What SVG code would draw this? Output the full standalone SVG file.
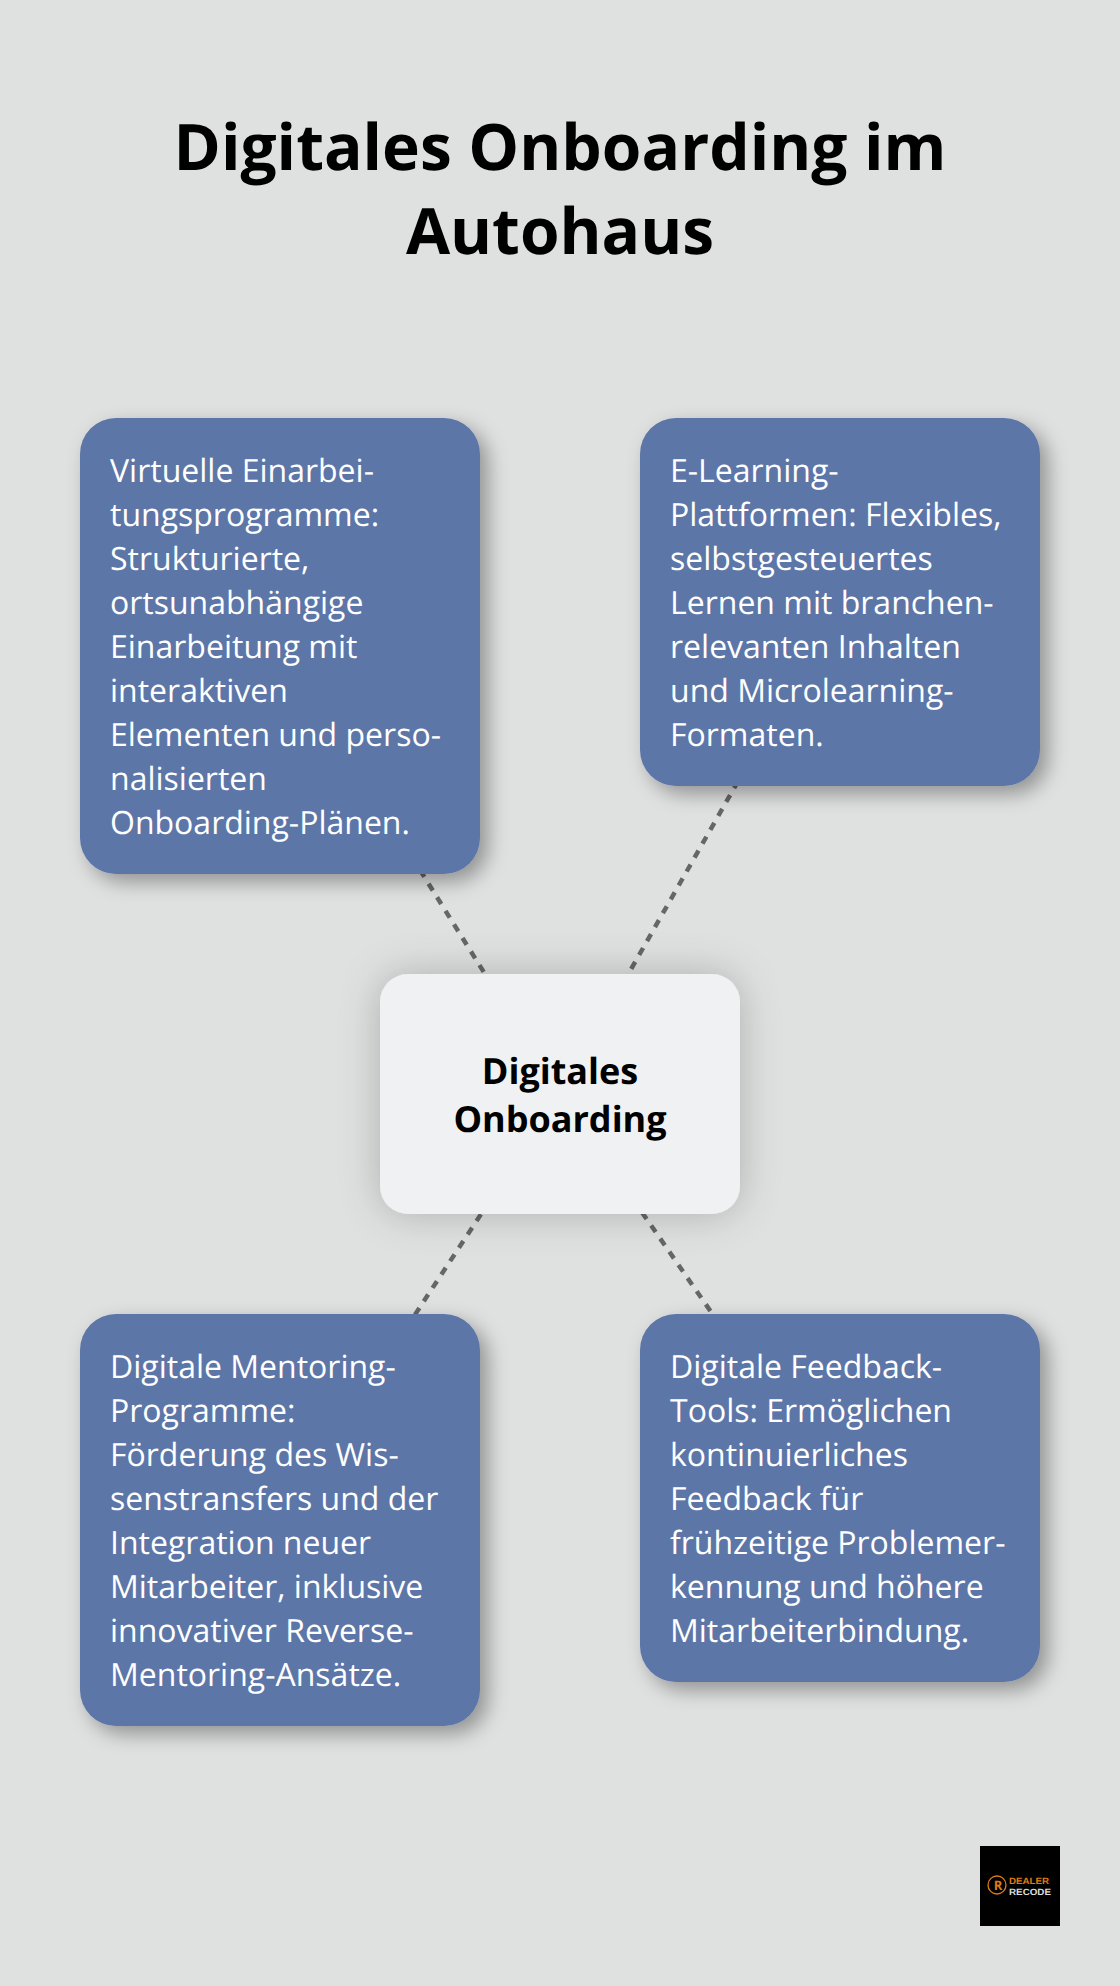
<svg xmlns="http://www.w3.org/2000/svg" width="1120" height="1986" viewBox="0 0 1120 1986">
<style>
text{font-family:"Open Sans","Noto Sans",sans-serif;text-rendering:geometricPrecision}
.t{font-size:64px;font-weight:700;fill:#000;text-anchor:middle}
.c{font-size:36px;font-weight:700;fill:#000;text-anchor:middle}
.b{font-size:32px;fill:#fff}
.box{fill:#5d76a8;filter:url(#s)}
.ctr{fill:#eff1f3;filter:url(#s2)}
.l{stroke:#666;stroke-width:4.5;stroke-dasharray:8 8;fill:none}
.lg{font-family:"Liberation Sans",sans-serif;font-size:9px;font-weight:700}
</style>
<defs>
<filter id="s" x="-20%" y="-20%" width="140%" height="140%"><feDropShadow dx="8" dy="8" stdDeviation="10" flood-color="#000" flood-opacity=".35"/></filter>
<filter id="s2" x="-30%" y="-30%" width="160%" height="160%"><feDropShadow dx="0" dy="0" stdDeviation="20" flood-color="#000" flood-opacity=".22"/></filter>
</defs>
<rect width="1120" height="1986" fill="#dfe1e0"/>
<g id="title"><text class="t" x="560" y="170">Digitales Onboarding im</text><text class="t" x="560" y="254">Autohaus</text></g>
<g id="connectors">
<line class="l" x1="560" y1="1094" x2="280" y2="646"/>
<line class="l" x1="560" y1="1094" x2="840" y2="602"/>
<line class="l" x1="560" y1="1094" x2="280" y2="1520"/>
<line class="l" x1="560" y1="1094" x2="840" y2="1498"/>
</g>
<g id="node-tl"><rect class="box" x="80" y="418" width="400" height="456" rx="36"/>
<text class="b" x="110" y="482">Virtuelle Einarbei-</text><text class="b" x="110" y="526">tungsprogramme:</text><text class="b" x="110" y="570">Strukturierte,</text><text class="b" x="110" y="614">ortsunabhängige</text><text class="b" x="110" y="658">Einarbeitung mit</text><text class="b" x="110" y="702">interaktiven</text><text class="b" x="110" y="746">Elementen und perso-</text><text class="b" x="110" y="790">nalisierten</text><text class="b" x="110" y="834">Onboarding-Plänen.</text></g>
<g id="node-tr"><rect class="box" x="640" y="418" width="400" height="368" rx="36"/>
<text class="b" x="670" y="482">E-Learning-</text><text class="b" x="670" y="526">Plattformen: Flexibles,</text><text class="b" x="670" y="570">selbstgesteuertes</text><text class="b" x="670" y="614">Lernen mit branchen-</text><text class="b" x="670" y="658">relevanten Inhalten</text><text class="b" x="670" y="702">und Microlearning-</text><text class="b" x="670" y="746">Formaten.</text></g>
<g id="node-center"><rect class="ctr" x="380" y="974" width="360" height="240" rx="28"/>
<text class="c" x="560" y="1084">Digitales</text><text class="c" x="560" y="1132">Onboarding</text></g>
<g id="node-bl"><rect class="box" x="80" y="1314" width="400" height="412" rx="36"/>
<text class="b" x="110" y="1378">Digitale Mentoring-</text><text class="b" x="110" y="1422">Programme:</text><text class="b" x="110" y="1466">Förderung des Wis-</text><text class="b" x="110" y="1510">senstransfers und der</text><text class="b" x="110" y="1554">Integration neuer</text><text class="b" x="110" y="1598">Mitarbeiter, inklusive</text><text class="b" x="110" y="1642">innovativer Reverse-</text><text class="b" x="110" y="1686">Mentoring-Ansätze.</text></g>
<g id="node-br"><rect class="box" x="640" y="1314" width="400" height="368" rx="36"/>
<text class="b" x="670" y="1378">Digitale Feedback-</text><text class="b" x="670" y="1422">Tools: Ermöglichen</text><text class="b" x="670" y="1466">kontinuierliches</text><text class="b" x="670" y="1510">Feedback für</text><text class="b" x="670" y="1554">frühzeitige Problemer-</text><text class="b" x="670" y="1598">kennung und höhere</text><text class="b" x="670" y="1642">Mitarbeiterbindung.</text></g>
<g id="logo"><rect x="980" y="1846" width="80" height="80" fill="#000"/>
<circle cx="997" cy="1885" r="9" fill="none" stroke="#e07b10" stroke-width="1.3"/>
<text x="998" y="1890" font-size="13" font-weight="700" fill="#e07b10" text-anchor="middle">R</text>
<text class="lg" x="1009" y="1884" fill="#e07b10" textLength="40" lengthAdjust="spacingAndGlyphs">DEALER</text>
<text class="lg" x="1009" y="1894.5" fill="#ddd" textLength="42" lengthAdjust="spacingAndGlyphs">RECODE</text></g>
</svg>
